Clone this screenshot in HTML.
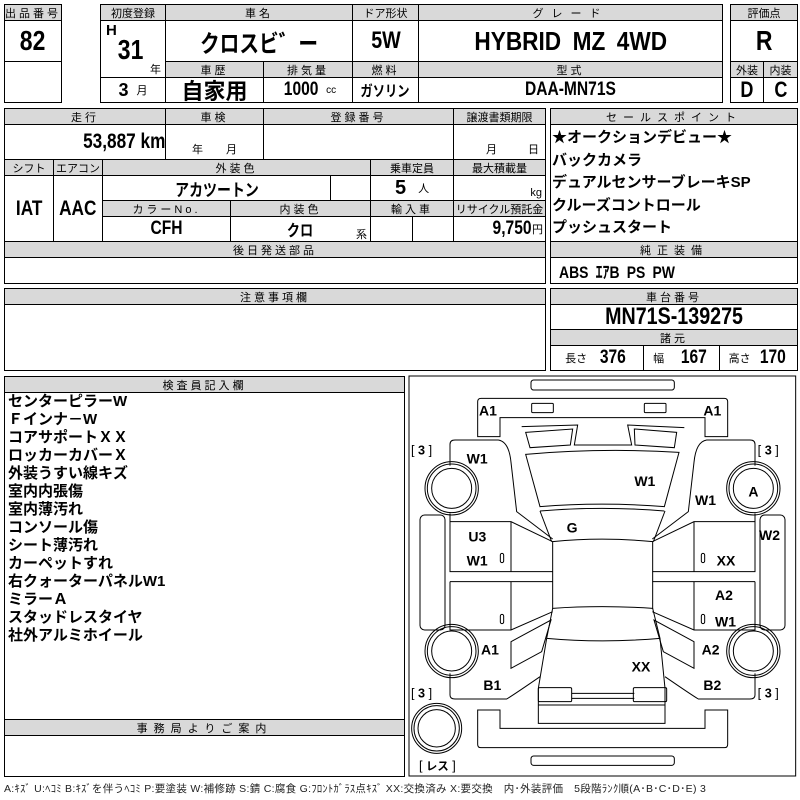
<!DOCTYPE html>
<html><head><meta charset="utf-8">
<style>
body{margin:0;width:800px;height:800px;background:#fff;position:relative;overflow:hidden;font-family:"Liberation Sans Narrow","Liberation Sans","Noto Sans CJK JP",sans-serif;}
.c{position:absolute;border:1px solid #000;box-sizing:border-box;display:flex;align-items:center;justify-content:center;white-space:nowrap;font-weight:bold;}
.h{background:#d9d9d9;font-weight:normal;font-size:11px;letter-spacing:3px;font-family:"Liberation Sans","Noto Sans CJK JP",sans-serif;}
.t{position:absolute;white-space:nowrap;}
.n{display:inline-block;transform:scaleX(0.82);}
.list{position:absolute;left:8px;top:393px;font-size:15px;line-height:18px;font-weight:bold;font-family:"Liberation Sans","Noto Sans CJK JP",sans-serif;}
.sp{position:absolute;left:552px;top:127px;font-size:15px;line-height:22.5px;font-weight:bold;font-family:"Liberation Sans","Noto Sans CJK JP",sans-serif;}
</style></head><body>
<!-- Row 1 -->
<div class="c h" style="left:4px;top:4px;width:58px;height:17px">出品番号</div>
<div class="c" style="left:4px;top:20px;width:58px;height:42px;font-size:28px"><span class="n">82</span></div>
<div class="c" style="left:4px;top:61px;width:58px;height:42px"></div>

<div class="c h" style="left:100px;top:4px;width:66px;height:17px;letter-spacing:0">初度登録</div>
<div class="c h" style="left:165px;top:4px;width:188px;height:17px">車名</div>
<div class="c h" style="left:352px;top:4px;width:67px;height:17px;letter-spacing:0">ドア形状</div>
<div class="c h" style="left:418px;top:4px;width:305px;height:17px;letter-spacing:8px">グレード</div>
<div class="c" style="left:100px;top:20px;width:66px;height:58px"></div>
<div class="t" style="left:106px;top:22px;font-size:15px;font-weight:bold">H</div>
<div class="t" style="left:115px;top:34px;font-size:28px;font-weight:bold"><span class="n">31</span></div>
<div class="t" style="left:150px;top:61px;font-size:11px">年</div>
<div class="c" style="left:100px;top:77px;width:66px;height:26px;font-size:18px">3 <span style="font-size:11px;font-weight:normal;margin-left:8px">月</span></div>
<div class="c" style="left:165px;top:20px;width:188px;height:42px;font-size:24px"><span class="n">クロスビ゛ー</span></div>
<div class="c" style="left:352px;top:20px;width:67px;height:42px;font-size:24px"><span class="n">5W</span></div>
<div class="c" style="left:418px;top:20px;width:305px;height:42px;font-size:26px;word-spacing:6px"><span class="n" style="transform:scaleX(0.87)">HYBRID MZ 4WD</span></div>
<div class="c h" style="left:165px;top:61px;width:99px;height:17px">車歴</div>
<div class="c h" style="left:263px;top:61px;width:90px;height:17px">排気量</div>
<div class="c h" style="left:352px;top:61px;width:67px;height:17px">燃料</div>
<div class="c h" style="left:418px;top:61px;width:305px;height:17px">型式</div>
<div class="c" style="left:165px;top:77px;width:99px;height:26px;font-size:22px;font-family:'Noto Sans CJK JP',sans-serif">自家用</div>
<div class="c" style="left:263px;top:77px;width:90px;height:26px;font-size:19px"><span class="n">1000</span><span style="font-size:10px;font-weight:normal;margin-left:4px">cc</span></div>
<div class="c" style="left:352px;top:77px;width:67px;height:26px;font-size:15px"><span class="n">ガソリン</span></div>
<div class="c" style="left:418px;top:77px;width:305px;height:26px;font-size:19px"><span class="n">DAA-MN71S</span></div>
<div class="c h" style="left:730px;top:4px;width:68px;height:17px;letter-spacing:0">評価点</div>
<div class="c" style="left:730px;top:20px;width:68px;height:42px;font-size:28px"><span class="n">R</span></div>
<div class="c h" style="left:730px;top:61px;width:34px;height:17px;letter-spacing:0">外装</div>
<div class="c h" style="left:763px;top:61px;width:35px;height:17px;letter-spacing:0">内装</div>
<div class="c" style="left:730px;top:77px;width:34px;height:26px;font-size:22px"><span class="n">D</span></div>
<div class="c" style="left:763px;top:77px;width:35px;height:26px;font-size:22px"><span class="n">C</span></div>

<!-- Section 2 -->
<div class="c h" style="left:4px;top:108px;width:162px;height:17px">走行</div>
<div class="c h" style="left:165px;top:108px;width:99px;height:17px">車検</div>
<div class="c h" style="left:263px;top:108px;width:191px;height:17px">登録番号</div>
<div class="c h" style="left:453px;top:108px;width:93px;height:17px;letter-spacing:0">譲渡書類期限</div>
<div class="c" style="left:4px;top:124px;width:162px;height:36px;font-size:21px;justify-content:flex-end;padding-right:0"><span class="n" style="transform-origin:right">53,887 km</span></div>
<div class="c" style="left:165px;top:124px;width:99px;height:36px;font-size:11px;font-weight:normal;align-items:flex-end;padding-bottom:2px;word-spacing:20px">年 月</div>
<div class="c" style="left:263px;top:124px;width:191px;height:36px"></div>
<div class="c" style="left:453px;top:124px;width:93px;height:36px;font-size:11px;font-weight:normal;align-items:flex-end;justify-content:flex-end;padding:0 6px 2px 0;word-spacing:28px">月 日</div>
<div class="c h" style="left:4px;top:159px;width:50px;height:17px;letter-spacing:0">シフト</div>
<div class="c h" style="left:53px;top:159px;width:50px;height:17px;letter-spacing:0">エアコン</div>
<div class="c h" style="left:102px;top:159px;width:269px;height:17px">外装色</div>
<div class="c h" style="left:370px;top:159px;width:84px;height:17px;letter-spacing:0">乗車定員</div>
<div class="c h" style="left:453px;top:159px;width:93px;height:17px;letter-spacing:0">最大積載量</div>
<div class="c" style="left:4px;top:175px;width:50px;height:67px;font-size:21px"><span class="n">IAT</span></div>
<div class="c" style="left:53px;top:175px;width:50px;height:67px;font-size:21px"><span class="n">AAC</span></div>
<div class="c" style="left:102px;top:175px;width:229px;height:26px;font-size:17px"><span class="n">アカツートン</span></div>
<div class="c" style="left:330px;top:175px;width:41px;height:26px"></div>
<div class="c" style="left:370px;top:175px;width:84px;height:26px;font-size:20px">5<span style="font-size:11px;font-weight:normal;margin-left:12px">人</span></div>
<div class="c" style="left:453px;top:175px;width:93px;height:26px;font-size:11px;font-weight:normal;justify-content:flex-end;align-items:flex-end;padding:0 3px 1px 0">kg</div>
<div class="c h" style="left:102px;top:200px;width:129px;height:17px">カラーNo.</div>
<div class="c h" style="left:230px;top:200px;width:141px;height:17px">内装色</div>
<div class="c h" style="left:370px;top:200px;width:84px;height:17px">輸入車</div>
<div class="c h" style="left:453px;top:200px;width:93px;height:17px;letter-spacing:0">リサイクル預託金</div>
<div class="c" style="left:102px;top:216px;width:129px;height:26px;font-size:19px"><span class="n">CFH</span></div>
<div class="c" style="left:230px;top:216px;width:141px;height:26px;font-size:16px"><span class="n">クロ</span></div>
<div class="t" style="left:356px;top:226px;font-size:11px">系</div>
<div class="c" style="left:370px;top:216px;width:43px;height:26px"></div>
<div class="c" style="left:412px;top:216px;width:42px;height:26px"></div>
<div class="c" style="left:453px;top:216px;width:93px;height:26px;font-size:19px;justify-content:flex-end;padding-right:2px"><span class="n" style="transform-origin:right">9,750</span><span style="font-size:11px;font-weight:normal">円</span></div>
<div class="c h" style="left:4px;top:241px;width:542px;height:17px">後日発送部品</div>
<div class="c" style="left:4px;top:257px;width:542px;height:27px"></div>
<div class="c h" style="left:550px;top:108px;width:248px;height:17px;letter-spacing:6px">セールスポイント</div>
<div class="c" style="left:550px;top:124px;width:248px;height:118px"></div>
<div class="sp">★オークションデビュー★<br>バックカメラ<br>デュアルセンサーブレーキSP<br>クルーズコントロール<br>プッシュスタート</div>
<div class="c h" style="left:550px;top:241px;width:248px;height:17px;letter-spacing:6px">純正装備</div>
<div class="c" style="left:550px;top:257px;width:248px;height:27px;font-size:17px;justify-content:flex-start;padding-left:8px;word-spacing:4px"><span class="n" style="transform-origin:left">ABS ｴｱB PS PW</span></div>

<!-- Section 3 -->
<div class="c h" style="left:4px;top:288px;width:542px;height:17px">注意事項欄</div>
<div class="c" style="left:4px;top:304px;width:542px;height:67px"></div>
<div class="c h" style="left:550px;top:288px;width:248px;height:17px">車台番号</div>
<div class="c" style="left:550px;top:304px;width:248px;height:26px;font-size:24px"><span class="n">MN71S-139275</span></div>
<div class="c h" style="left:550px;top:329px;width:248px;height:17px">諸元</div>
<div class="c" style="left:550px;top:345px;width:94px;height:26px;font-size:19px"><span style="font-size:11px;font-weight:normal;margin-right:10px">長さ</span><span class="n">376</span></div>
<div class="c" style="left:643px;top:345px;width:77px;height:26px;font-size:19px"><span style="font-size:11px;font-weight:normal;margin-right:14px">幅</span><span class="n">167</span></div>
<div class="c" style="left:719px;top:345px;width:79px;height:26px;font-size:19px"><span style="font-size:11px;font-weight:normal;margin-right:6px">高さ</span><span class="n">170</span></div>

<!-- Section 4 -->
<div class="c h" style="left:4px;top:376px;width:401px;height:17px">検査員記入欄</div>
<div class="c" style="left:4px;top:392px;width:401px;height:328px"></div>
<div class="list">センターピラーW<br>Ｆインナ－W<br>コアサポートＸＸ<br>ロッカーカバーＸ<br>外装うすい線キズ<br>室内内張傷<br>室内薄汚れ<br>コンソール傷<br>シート薄汚れ<br>カーペットすれ<br>右クォーターパネルW1<br>ミラーＡ<br>スタッドレスタイヤ<br>社外アルミホイール</div>
<div class="c h" style="left:4px;top:719px;width:401px;height:17px;letter-spacing:6px">事務局よりご案内</div>
<div class="c" style="left:4px;top:735px;width:401px;height:42px"></div>

<svg style="position:absolute;left:405px;top:375px" width="395" height="425" viewBox="0 0 1185 1275">
<g fill="none" stroke="#000" stroke-width="3">
<rect x="12" y="3" width="1160" height="1200"/>
<rect x="378" y="15" width="430" height="30" rx="8"/>
<rect x="378" y="1143" width="430" height="28" rx="8"/>
<path d="M218,185 L218,80 Q218,70 228,70 L958,70 Q968,70 968,80 L968,185 L900,185 L900,128 L285,128 L285,185 Z"/>
<path d="M218,1005 L285,1005 L285,1060 L900,1060 L900,1005 L968,1005 L968,1108 Q968,1118 958,1118 L228,1118 Q218,1118 218,1108 Z"/>
<rect x="380" y="85" width="65" height="28" rx="3"/>
<rect x="718" y="85" width="65" height="28" rx="3"/>
<path d="M350,155 L518,150 L508,210 L680,210 L668,150 L838,158"/>
<path d="M362,172 L503,162 L496,210 L375,218 Z"/>
<path d="M688,162 L815,172 L808,218 L690,210 Z"/>
<path d="M362,238 Q590,218 822,232 L778,395 Q590,380 405,395 Z"/>
<path d="M405,408 Q590,392 778,408"/>
<path d="M443,500 Q590,485 743,500 L743,700 Q590,690 443,700 Z"/>
<path d="M425,790 Q590,805 765,790"/>
<path d="M443,700 L425,790 L400,940 L400,1045 L780,1045 L780,940 L765,790 L743,700"/>
<line x1="400" y1="990" x2="780" y2="990"/>
<line x1="500" y1="955" x2="688" y2="955"/>
<line x1="500" y1="970" x2="688" y2="970"/>
<g id="L">
<rect x="45" y="420" width="75" height="345" rx="14"/>
<rect x="400" y="938" width="100" height="42" rx="4"/>
<path d="M135,272 L135,208 Q135,195 150,195 L280,195 Q312,200 318,262 L335,410 L443,492"/>
<path d="M405,408 L440,500"/>
<path d="M135,415 L135,440 L318,440 L443,500 M135,440 L135,590 L443,590 M135,620 L443,620 M318,440 L318,590 M135,620 L135,765 L318,765 L443,710 M318,620 L318,765"/>
<path d="M318,800 L438,735 L410,830 L318,880 Z"/>
<path d="M135,895 L135,960 Q135,972 150,972 L305,972 Q325,960 405,905"/>
<circle cx="140" cy="340" r="80"/><circle cx="140" cy="340" r="73"/><circle cx="140" cy="340" r="60"/>
<circle cx="140" cy="828" r="80"/><circle cx="140" cy="828" r="73"/><circle cx="140" cy="828" r="60"/>
<rect x="286" y="535" width="10" height="28" rx="5"/>
<rect x="286" y="718" width="10" height="28" rx="5"/>
</g>
<use href="#L" transform="translate(1185,0) scale(-1,1)"/>
<circle cx="95" cy="1060" r="75"/><circle cx="95" cy="1060" r="68"/><circle cx="95" cy="1060" r="56"/>
</g>
<g font-family="Liberation Sans, sans-serif" font-weight="bold" font-size="42" fill="#000">
<text x="222" y="122">A1</text><text x="895" y="122">A1</text>
<text x="185" y="265">W1</text><text x="688" y="333">W1</text><text x="870" y="390">W1</text>
<text x="1030" y="365">A</text><text x="485" y="472">G</text>
<text x="190" y="500">U3</text><text x="185" y="572">W1</text>
<text x="935" y="572">XX</text><text x="1062" y="495">W2</text>
<text x="930" y="675">A2</text><text x="930" y="755">W1</text>
<text x="228" y="838">A1</text><text x="890" y="838">A2</text>
<text x="680" y="890">XX</text>
<text x="235" y="945">B1</text><text x="895" y="945">B2</text>
</g>
<g font-family="Liberation Sans, sans-serif" font-size="38" fill="#000">
<text x="18" y="238">[ <tspan font-weight="bold">3</tspan> ]</text>
<text x="1058" y="238">[ <tspan font-weight="bold">3</tspan> ]</text>
<text x="18" y="968">[ <tspan font-weight="bold">3</tspan> ]</text>
<text x="1058" y="968">[ <tspan font-weight="bold">3</tspan> ]</text>
<text x="42" y="1185">[ <tspan font-weight="bold" font-family="Noto Sans CJK JP, sans-serif" font-size="34">レス</tspan> ]</text>
</g>
</svg>

<div class="t" style="left:4px;top:781px;font-size:10.5px;letter-spacing:0.3px;font-family:'Liberation Sans','Noto Sans CJK JP',sans-serif;color:#222">A:ｷｽﾞ U:ﾍｺﾐ B:ｷｽﾞを伴うﾍｺﾐ P:要塗装 W:補修跡 S:錆 C:腐食 G:ﾌﾛﾝﾄｶﾞﾗｽ点ｷｽﾞ XX:交換済み X:要交換　内･外装評価　5段階ﾗﾝｸ順(A･B･C･D･E) 3</div>
</body></html>
